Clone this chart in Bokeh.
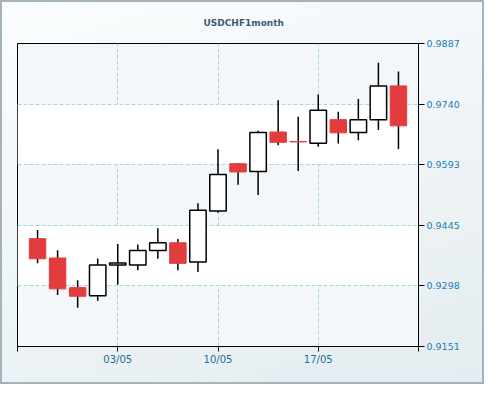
from bokeh.plotting import figure
from bokeh.models import Range1d, FixedTicker
from bokeh.embed import file_html
from bokeh.resources import INLINE

# ---- data ----
dates = ["27/04", "28/04", "29/04", "30/04",
         "03/05", "04/05", "05/05", "06/05", "07/05",
         "10/05", "11/05", "12/05", "13/05", "14/05",
         "17/05", "18/05", "19/05", "20/05", "21/05"]
opens = [0.9413, 0.9366, 0.9294, 0.9274, 0.9349, 0.9349, 0.9384, 0.9403, 0.9356,
         0.9480, 0.9595, 0.9576, 0.9672, 0.9649, 0.9645, 0.9702, 0.9671, 0.9702, 0.9784]
highs = [0.9434, 0.9385, 0.9312, 0.9365, 0.9400, 0.9399, 0.9438, 0.9412, 0.9499,
         0.9630, 0.9597, 0.9675, 0.9749, 0.9709, 0.9763, 0.9721, 0.9752, 0.9840, 0.9819]
lows = [0.9353, 0.9276, 0.9245, 0.9262, 0.9301, 0.9336, 0.9364, 0.9336, 0.9332,
        0.9476, 0.9544, 0.9519, 0.9640, 0.9577, 0.9636, 0.9644, 0.9652, 0.9677, 0.9631]
closes = [0.9364, 0.9291, 0.9273, 0.9349, 0.9354, 0.9384, 0.9403, 0.9353, 0.9482,
          0.9569, 0.9575, 0.9671, 0.9647, 0.9648, 0.9725, 0.9670, 0.9702, 0.9784, 0.9687]
x_tick_labels = ["03/05", "10/05", "17/05"]
y_tick_values = [0.9151, 0.9298, 0.9445, 0.9593, 0.9740, 0.9887]
title_text = "USDCHF1month"

# ---- layout ----
W, H = 484, 384
B_LEFT, B_RIGHT, B_TOP, B_BOTTOM = 17, 66, 43, 38

# ---- derived ----
xs = list(range(1, len(dates) + 1))
x_start, x_end = 0, len(dates) + 1
tick_x = [xs[dates.index(lbl)] for lbl in x_tick_labels]

up = [i for i in range(len(dates)) if closes[i] >= opens[i]]
dn = [i for i in range(len(dates)) if closes[i] < opens[i]]

p = figure(width=W, height=H,
           x_range=Range1d(x_start, x_end),
           y_range=Range1d(y_tick_values[0], y_tick_values[-1]),
           y_axis_location="right",
           toolbar_location=None, output_backend="svg",
           min_border_left=B_LEFT, min_border_right=B_RIGHT,
           min_border_top=B_TOP, min_border_bottom=B_BOTTOM)

# title
p.title.text = title_text
p.title.align = "left"
p.title.offset = 186
p.title.standoff = 31
p.title.text_font = "DejaVu Sans"
p.title.text_font_size = "9px"
p.title.text_font_style = "bold"
p.title.text_color = "#3d5b70"

# backgrounds
p.border_fill_alpha = 0
p.styles = {"background": "linear-gradient(160deg, #fbfdfe 0%, #e4ecef 100%)",
            "outline": "2px solid #a3b3be", "outline-offset": "-2px"}
p.background_fill_color = "#f3f7f9"
p.outline_line_color = "black"
p.outline_line_width = 1
p.outline_line_alpha = 1

# x axis
xax = p.xaxis[0]
xax.ticker = FixedTicker(ticks=[x_start] + tick_x + [x_end])
xax.major_label_overrides = {**{x_start: "", x_end: ""},
                             **{t: l for t, l in zip(tick_x, x_tick_labels)}}
xax.axis_line_color = "black"
xax.major_tick_line_color = "black"
xax.major_tick_out = 5
xax.major_tick_in = 0
xax.minor_tick_line_color = None
xax.major_label_text_font = "DejaVu Sans"
xax.major_label_text_font_size = "10px"
xax.major_label_text_color = "#236d9a"
xax.major_label_standoff = 2

# y axis (right)
yax = p.yaxis[0]
yax.ticker = FixedTicker(ticks=y_tick_values)
yax.major_label_overrides = {v: f"{v:.4f}" for v in y_tick_values}
yax.axis_line_color = "black"
yax.major_tick_line_color = "black"
yax.major_tick_out = 6
yax.major_tick_in = 0
yax.minor_tick_line_color = None
yax.major_label_text_font = "DejaVu Sans"
yax.major_label_text_font_size = "9.5px"
yax.major_label_text_color = "#1b7db2"
yax.major_label_standoff = 2

# grids
p.xgrid.ticker = FixedTicker(ticks=tick_x)
p.ygrid.ticker = FixedTicker(ticks=y_tick_values)
for g in (p.xgrid[0], p.ygrid[0]):
    g.grid_line_color = "#a8d5df"
    g.grid_line_dash = "4 2"
    g.grid_line_width = 1
p.ygrid.band_fill_color = "white"
p.ygrid.band_fill_alpha = 1

# candles
p.segment(xs, highs, xs, lows, line_color="black", line_width=1.5)
bw = 0.82
p.vbar(x=[xs[i] for i in dn], width=bw,
       top=[opens[i] for i in dn], bottom=[closes[i] for i in dn],
       fill_color="#e23c3e", line_color="#e23c3e", line_width=1)
p.vbar(x=[xs[i] for i in up], width=bw,
       top=[closes[i] for i in up], bottom=[opens[i] for i in up],
       fill_color="white", line_color="black", line_width=1.5)

open("out.html", "w").write(file_html(p, INLINE))
